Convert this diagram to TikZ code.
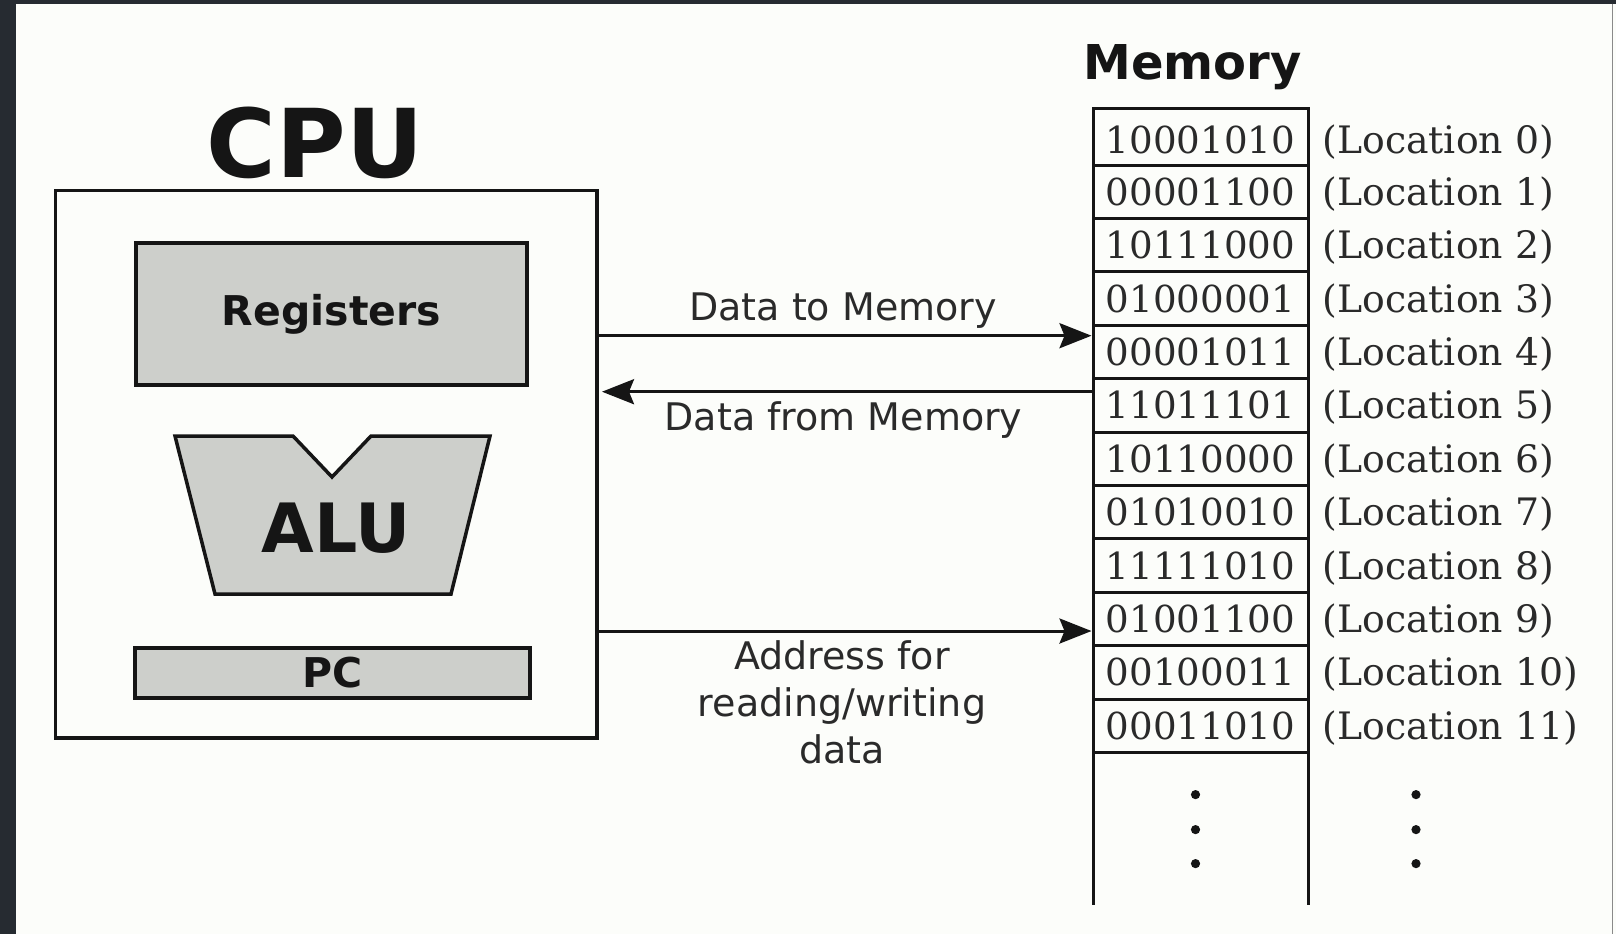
\documentclass[tikz,border=0pt]{standalone}
\usepackage{fontspec}
\setmainfont{DejaVu Serif}
\newfontfamily\dvsans{DejaVu Sans}
\usetikzlibrary{arrows.meta}
\definecolor{bgc}{HTML}{FCFDFA}
\definecolor{darkedge}{HTML}{262B31}
\definecolor{boxgray}{HTML}{CDCFCB}
\definecolor{ink}{HTML}{151515}
\definecolor{txt}{HTML}{2A2A2A}
\definecolor{edgeline}{HTML}{8A8A8A}
\begin{document}
\begin{tikzpicture}[x=0.5pt,y=-0.5pt,
  frame/.style={draw=ink, line width=1.75pt, outer sep=0pt},
  grayblock/.style={frame, fill=boxgray, inner sep=0pt, text=ink},
  cell/.style={draw=ink, line width=1.5pt, outer sep=0pt, minimum width=107.5pt, inner sep=0pt, font=\fontsize{18.6}{22}\selectfont, text=txt},
  loclabel/.style={anchor=base west, inner sep=0pt, font=\fontsize{18.9}{22}\selectfont, text=txt},
  title/.style={font=\dvsans\bfseries, text=ink, inner sep=0pt, anchor=base},
  lbl/.style={font=\dvsans\fontsize{19}{23.5}\selectfont, text=txt, inner sep=0pt},
  arr/.style={draw=ink, line width=1.5pt, -{Stealth[length=16pt,width=12.5pt,inset=2.5pt]}}
]
\useasboundingbox (0,0) rectangle (1616,934);
% background and screen edges
\fill[bgc] (0,0) rectangle (1616,934);
\fill[darkedge] (0,0) rectangle (16,934);
\fill[darkedge] (0,0) rectangle (1616,3.5);
\draw[edgeline, line width=0.5pt] (1612.5,3.5) -- (1612.5,934);

% CPU
\node[title] (cputitle) at (315,177) {\fontsize{47.5}{54}\selectfont CPU};
\node[frame, minimum width=270.7pt, minimum height=273.7pt] (cpu) at (326.3,464.4) {};
\node[grayblock, minimum width=195.5pt, minimum height=71pt,
      font=\dvsans\bfseries\fontsize{20.5}{24}\selectfont] (reg) at (331.5,314) {Registers};
\filldraw[fill=boxgray, draw=ink, line width=1.75pt, line join=miter]
  (175,436) -- (293,436) -- (332,477) -- (371,436) -- (490,436) -- (451,594) -- (215,594) -- cycle;
\node[title] (alu) at (336,552) {\fontsize{34}{39}\selectfont ALU};
\node[grayblock, minimum width=197.5pt, minimum height=25pt,
      font=\dvsans\bfseries\fontsize{20.5}{24}\selectfont] (pc) at (332.5,673) {PC};

% Memory
\node[title] (memtitle) at (1192.5,79.4) {\fontsize{24}{28}\selectfont Memory};
\node[cell, minimum height=28.5pt] (m0) at (1200.5,136.5) {\raisebox{-1.5pt}[\height][0pt]{10001010}};
\node[loclabel] (l0) at (1322,153) {(Location 0)};
\foreach \i/\v/\y in {1/00001100/191.7, 2/10111000/245.1, 3/01000001/298.5,
                      4/00001011/351.9, 5/11011101/405.3, 6/10110000/458.7,
                      7/01010010/512.1, 8/11111010/565.5, 9/01001100/618.9,
                      10/00100011/672.3, 11/00011010/725.7} {
  \node[cell, minimum height=26.7pt] (m\i) at (1200.5,\y) {\v};
  \node[loclabel] (l\i) at (1322,\y+13.5) {(Location \i)};
}
\draw[ink, line width=1.5pt] (m11.south west) -- ++(0,153);
\draw[ink, line width=1.5pt] (m11.south east) -- ++(0,153);
\foreach \yy in {794.6, 829.6, 863.6} {
  \fill[ink] (1195.5,\yy) circle (2.3pt);
  \fill[ink] (1416,\yy) circle (2.3pt);
}

% connectors
\coordinate (yA) at (0,335.7);
\coordinate (yB) at (0,391.7);
\coordinate (yC) at (0,631);
\draw[arr, shorten >=0.75pt] (cpu.east |- yA) -- (m4.west |- yA);
\draw[arr, shorten >=2.5pt] (m5.west |- yB) -- (cpu.east |- yB);
\draw[arr, shorten >=0.75pt] (cpu.east |- yC) -- (m9.west |- yC);
\node[lbl, anchor=base] (ltm) at (843,320) {Data to Memory};
\node[lbl, anchor=base] (lfm) at (843.5,430) {Data from Memory};
\node[lbl, align=center] (laddr) at (842,702) {Address for\\reading/writing\\data};
\end{tikzpicture}
\end{document}
